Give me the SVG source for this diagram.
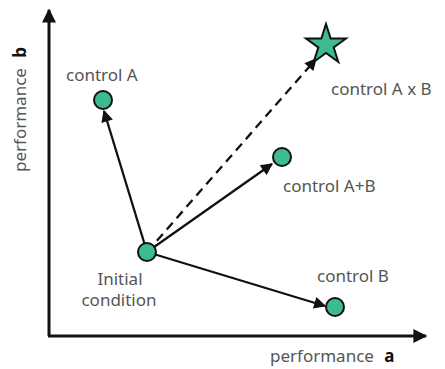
<svg xmlns="http://www.w3.org/2000/svg" width="445" height="369" viewBox="0 0 445 369">
<style>
.t{font-family:"Noto Sans","Liberation Sans",sans-serif;font-size:17px;fill:#555}
.b{font-weight:bold;fill:#111}
.n{fill:#3dba8f;stroke:#111;stroke-width:2}
.c{stroke:#111;stroke-width:2.3;fill:none}
.ax{stroke:#111;stroke-width:3;fill:none}
</style>
<defs>
<marker id="ah" viewBox="0 0 10 10" refX="9" refY="5" markerWidth="14" markerHeight="12" markerUnits="userSpaceOnUse" orient="auto">
<path d="M0,0 L10,5 L0,10 z" fill="#111"/>
</marker>
<marker id="axh" viewBox="0 0 10 10" refX="9" refY="5" markerWidth="16" markerHeight="14" markerUnits="userSpaceOnUse" orient="auto">
<path d="M0,0 L10,5 L0,10 z" fill="#111"/>
</marker>
</defs>
<g id="axes">
<path class="ax" d="M49,336 V10" marker-end="url(#axh)"/>
<path class="ax" d="M48,336 H426" marker-end="url(#axh)"/>
<text class="t" x="270" y="362">performance <tspan class="b" dx="6">a</tspan></text>
<text class="t" transform="translate(26,172) rotate(-90)">performance <tspan class="b" dx="6">b</tspan></text>
</g>
<g id="connectors">
<path class="c" d="M147,252 L104,111" marker-end="url(#ah)"/>
<path class="c" d="M147,252 L272,164" marker-end="url(#ah)"/>
<path class="c" d="M147,252 L325,306" marker-end="url(#ah)"/>
<path class="c" d="M147,252 L316,59" stroke-dasharray="9,6" marker-end="url(#ah)"/>
</g>
<g id="initial">
<circle class="n" cx="147" cy="252" r="9"/>
<text class="t" x="120" y="285" text-anchor="middle">Initial</text>
<text class="t" x="119" y="306" text-anchor="middle">condition</text>
</g>
<g id="controlA">
<circle class="n" cx="103" cy="100" r="9"/>
<text class="t" x="66" y="81">control A</text>
</g>
<g id="controlAplusB">
<circle class="n" cx="282" cy="157" r="9"/>
<text class="t" x="283" y="192">control A+B</text>
</g>
<g id="controlB">
<circle class="n" cx="335" cy="307" r="9"/>
<text class="t" x="317" y="282">control B</text>
</g>
<g id="controlAxB">
<polygon class="n" points="326,24 330.7,38.5 346,38.5 333.7,47.5 338.3,62 326,53 313.7,62 318.3,47.5 306,38.5 321.3,38.5"/>
<text class="t" x="331" y="95">control A x B</text>
</g>
</svg>
